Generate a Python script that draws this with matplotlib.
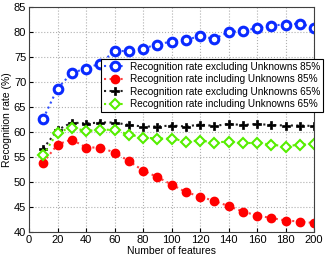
import matplotlib
matplotlib.use("Agg")
import matplotlib.pyplot as plt

plt.rcParams['font.family'] = ['Liberation Sans', 'DejaVu Sans']

features = [10, 20, 30, 40, 50, 60, 70, 80, 90, 100, 110, 120, 130, 140, 150, 160, 170, 180, 190, 200]
excl_85 = [62.7, 68.7, 71.8, 72.7, 73.7, 76.2, 76.2, 76.7, 77.5, 78.1, 78.4, 79.2, 78.6, 80.0, 80.2, 80.8, 81.3, 81.5, 81.7, 80.9]
incl_85 = [53.9, 57.5, 58.5, 56.9, 56.9, 55.9, 54.2, 52.3, 51.0, 49.5, 48.0, 47.1, 46.2, 45.2, 44.1, 43.3, 42.8, 42.3, 42.1, 41.8]
excl_65 = [56.7, 60.4, 61.9, 61.7, 61.9, 61.9, 61.4, 61.1, 61.1, 61.3, 61.1, 61.5, 61.2, 61.6, 61.4, 61.6, 61.4, 61.3, 61.3, 61.2]
incl_65 = [55.4, 59.9, 60.9, 60.2, 60.5, 60.4, 59.5, 58.9, 58.7, 58.7, 58.1, 58.3, 57.9, 58.1, 57.8, 57.8, 57.5, 57.1, 57.5, 57.6]
labels = ["Recognition rate excluding Unknowns 85%",
          "Recognition rate including Unknowns 85%",
          "Recognition rate excluding Unknowns 65%",
          "Recognition rate including Unknowns 65%"]

fig = plt.figure(figsize=(3.27, 2.59), dpi=100)
ax = fig.add_axes([29/327, 1-232/259, (314-29)/327, (232-7)/259])

ax.plot(features, excl_85, linestyle=':', color='#3050ff', linewidth=1.5,
        marker='o', markersize=6.2, markerfacecolor='white', markeredgecolor='#0a2aff',
        markeredgewidth=2.2, label=labels[0])
ax.plot(features, incl_85, linestyle=':', color='#ff4040', linewidth=1.5,
        marker='o', markersize=6, markerfacecolor='#ff0000', markeredgecolor='#ff0000',
        label=labels[1])
ax.plot(features, excl_65, linestyle=':', color='#202020', linewidth=1.5,
        marker='P', markersize=6.3, markerfacecolor='black', markeredgecolor='black',
        markeredgewidth=0.5, label=labels[2])
ax.plot(features, incl_65, linestyle=':', color='#66ee00', linewidth=1.5,
        marker='D', markersize=5.5, markerfacecolor='white', markeredgecolor='#55ee00',
        markeredgewidth=1.5, label=labels[3])

ax.set_xlim(0, 200)
ax.set_ylim(40, 85)
ax.set_xticks(range(0, 201, 20))
ax.set_yticks(range(40, 86, 5))
ax.grid(True, linestyle=':', color='#b0b0b0', linewidth=0.8)
ax.tick_params(direction='in', labelsize=8, length=3, pad=2)
for s in ax.spines.values():
    s.set_color('#404040')
    s.set_linewidth(0.8)
ax.set_xlabel("Number of features", fontsize=7.5, labelpad=1)
ax.set_ylabel("Recognition rate (%)", fontsize=7.5, labelpad=1)

leg = ax.legend(loc='upper left', bbox_to_anchor=((101-29)/285, 1-(59-7)/225),
                fontsize=7.2, frameon=True, fancybox=False, framealpha=1,
                edgecolor='black', borderpad=0.3, labelspacing=0.25,
                handlelength=2.2, handletextpad=0.4, borderaxespad=0)
leg.get_frame().set_linewidth(0.8)

fig.savefig("out.png", dpi=100)
